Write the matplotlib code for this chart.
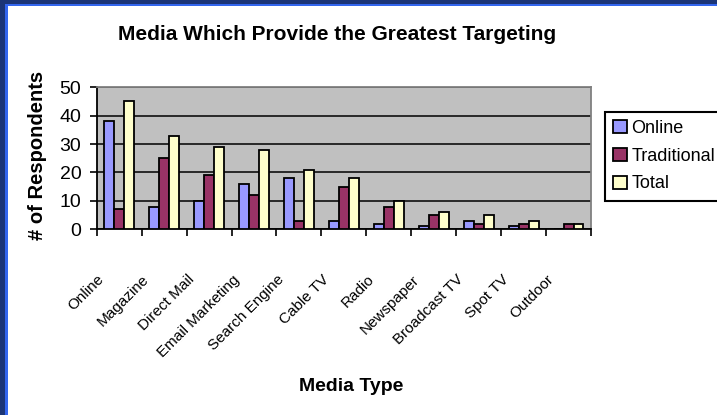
import numpy as np
import matplotlib
matplotlib.use('Agg')
import matplotlib.pyplot as plt
import matplotlib.transforms as mtransforms
from matplotlib.patches import Rectangle

categories = ['Online', 'Magazine', 'Direct Mail', 'Email Marketing', 'Search Engine',
              'Cable TV', 'Radio', 'Newspaper', 'Broadcast TV', 'Spot TV', 'Outdoor']
online = [38, 8, 10, 16, 18, 3, 2, 1, 3, 1, 0]
traditional = [7, 25, 19, 12, 3, 15, 8, 5, 2, 2, 2]
total = [45, 33, 29, 28, 21, 18, 10, 6, 5, 3, 2]
series_names = ['Online', 'Traditional', 'Total']
colors = ['#9999ff', '#993366', '#ffffcc']
yticks = [0, 10, 20, 30, 40, 50]


def main():
    plt.rcParams['font.family'] = ['Liberation Sans', 'DejaVu Sans']
    fig = plt.figure(figsize=(7.17, 4.15), dpi=100)
    fig.patch.set_facecolor('white')

    # blue slide frame (left and top)
    fig.patches.append(Rectangle((0, 0), 5 / 717, 1, transform=fig.transFigure,
                                 facecolor='#1b3577', edgecolor='none', zorder=0))
    fig.patches.append(Rectangle((5 / 717, 0), 2.5 / 717, 1 - 4 / 415, transform=fig.transFigure,
                                 facecolor='#3366ee', edgecolor='none', zorder=0))
    fig.patches.append(Rectangle((0, 1 - 4 / 415), 1, 4 / 415, transform=fig.transFigure,
                                 facecolor='#1b3577', edgecolor='none', zorder=0))
    fig.patches.append(Rectangle((5 / 717, 1 - 6.5 / 415), 1, 2.5 / 415, transform=fig.transFigure,
                                 facecolor='#3366ee', edgecolor='none', zorder=0))

    ax = fig.add_axes([96.7 / 717, 1 - 229.3 / 415, 494.3 / 717, 142 / 415])
    ax.set_facecolor('#c0c0c0')

    x = np.arange(len(categories))
    w = 0.222
    data = [online, traditional, total]
    for i, (vals, c, name) in enumerate(zip(data, colors, series_names)):
        ax.bar(x + (i - 1) * w, vals, width=w, color=c, edgecolor='black',
               linewidth=1.3, label=name, zorder=3)

    ax.set_xlim(-0.5, len(categories) - 0.5)
    ax.set_ylim(0, 50)
    ax.set_yticks(yticks)
    ax.tick_params(axis='y', labelsize=14, length=5, width=1.2, direction='out', pad=6)
    ax.yaxis.grid(True, color='black', linewidth=1.1, zorder=1)
    ax.set_axisbelow(True)

    # x ticks between categories, labels at category centres
    ax.set_xticks(np.arange(len(categories) + 1) - 0.5)
    ax.set_xticklabels([])
    ax.tick_params(axis='x', length=5, width=1.2, direction='out')
    ax.set_xticks(x, minor=True)
    ax.set_xticklabels(categories, minor=True, rotation=45, ha='right', va='top',
                       rotation_mode='anchor', fontsize=11)
    ax.tick_params(axis='x', which='minor', length=0, pad=31)
    offset = mtransforms.ScaledTranslation(-22 / 100, 0, fig.dpi_scale_trans)
    for lab in ax.get_xticklabels(minor=True):
        lab.set_transform(lab.get_transform() + offset)

    for s in ['left', 'bottom']:
        ax.spines[s].set_color('black')
        ax.spines[s].set_linewidth(1.3)
    for s in ['top', 'right']:
        ax.spines[s].set_color('#808080')
        ax.spines[s].set_linewidth(1.3)

    fig.text(337 / 717, 1 - 34 / 415, 'Media Which Provide the Greatest Targeting',
             ha='center', va='center', fontsize=15, fontweight='bold')
    fig.text(37.5 / 717, 1 - 155 / 415, '# of Respondents', rotation=90,
             ha='center', va='center', fontsize=14.5, fontweight='bold')
    fig.text(351.5 / 717, 1 - 386 / 415, 'Media Type',
             ha='center', va='center', fontsize=14, fontweight='bold')

    leg = ax.legend(loc='upper left', bbox_to_anchor=(605 / 717, 1 - 111.7 / 415),
                    bbox_transform=fig.transFigure, borderaxespad=0, fontsize=13,
                    handlelength=0.75, handleheight=0.75, handletextpad=0.25,
                    labelspacing=0.6, borderpad=0.45, fancybox=False, framealpha=1)
    leg.get_frame().set_edgecolor('black')
    leg.get_frame().set_linewidth(1.5)

    plt.savefig('out.png', dpi=100)


if __name__ == '__main__':
    main()
